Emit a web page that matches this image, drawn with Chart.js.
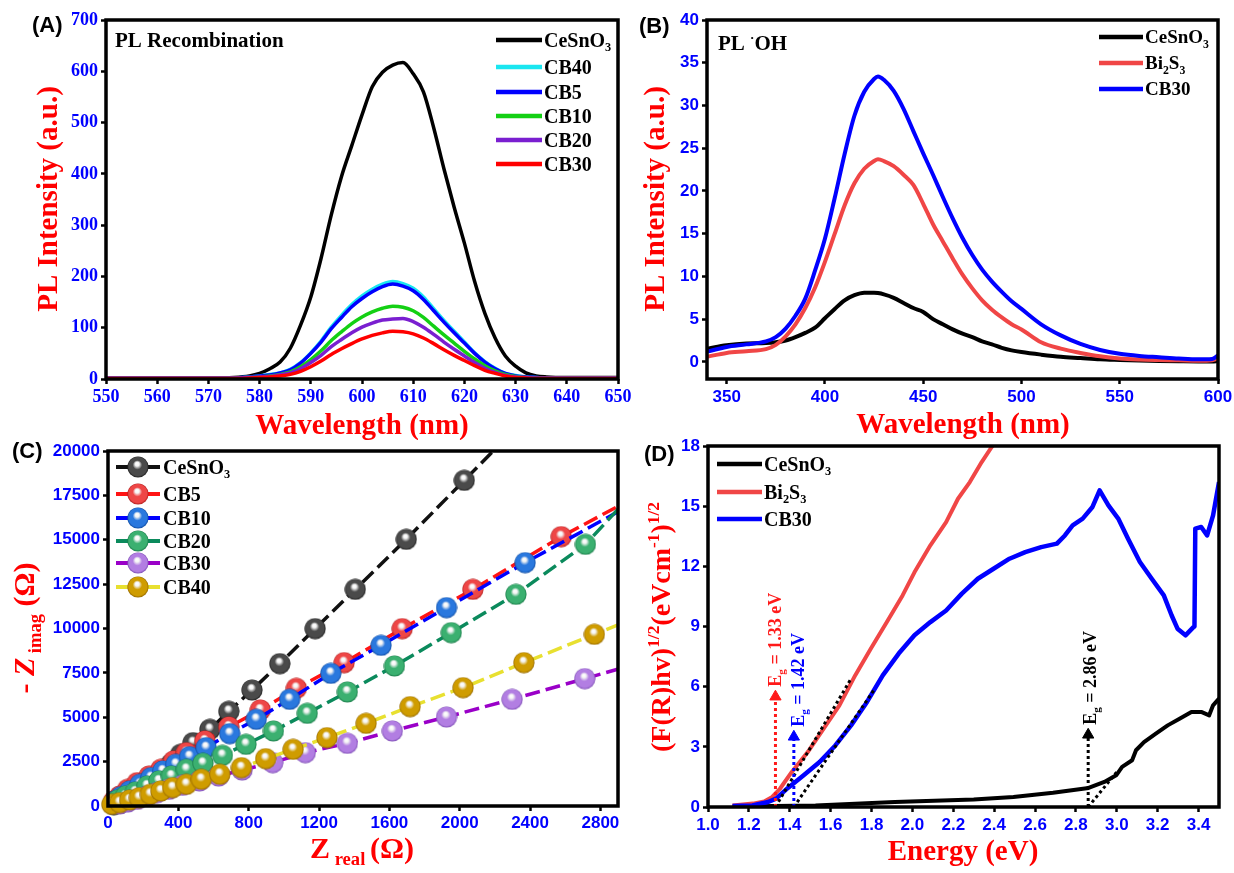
<!DOCTYPE html>
<html lang="en">
<head>
<meta charset="utf-8">
<title>PL, EIS and Tauc plots</title>
<script src="https://cdn.jsdelivr.net/npm/chart.js@4.4.1/dist/chart.umd.min.js"></script>
<style>
  html, body { margin: 0; padding: 0; background: #fff; }
  body { position: relative; width: 1234px; height: 873px; overflow: hidden; }
  canvas { position: absolute; }
</style>
</head>
<body>
<canvas id="chartA"></canvas>
<canvas id="chartB"></canvas>
<canvas id="chartC"></canvas>
<canvas id="chartD"></canvas>
<script>
'use strict';

/* ============================================================
   DATA
   ============================================================ */

/* (A) PL recombination spectra */
const wlA = [550, 560, 570, 575, 578, 580, 582, 584, 586, 588, 590, 592, 594, 596, 598,
             600, 602, 604, 606, 608, 610, 612, 614, 616, 618, 620, 622, 624, 626, 628,
             630, 632, 634, 636, 640, 645, 650];
const plA_CeSnO3 = [2, 2, 2, 3, 6, 11, 20, 33, 60, 105, 160, 235, 320, 395, 455,
                    515, 570, 598, 612, 617, 595, 560, 490, 410, 335, 265, 190, 128, 80, 45,
                    25, 12, 6, 4, 3, 3, 3];
const plA_CB40 = [2, 2, 2, 2, 4, 6, 9, 12, 19, 32, 51, 74, 101, 124, 145,
                  162, 175, 185, 190, 186, 177, 160, 137, 114, 93, 72, 51, 34, 21, 11,
                  7, 4, 3, 2, 2, 2, 2];
const plA_CB5 = [2, 2, 2, 2, 4, 6, 8, 12, 18, 31, 50, 72, 98, 120, 141,
                 157, 170, 180, 185, 181, 172, 155, 133, 111, 90, 70, 50, 33, 20, 11,
                 6, 4, 3, 2, 2, 2, 2];
const plA_CB10 = [2, 2, 2, 2, 3, 4, 6, 9, 14, 24, 38, 55, 75, 92, 108,
                  121, 131, 138, 142, 140, 133, 120, 103, 86, 70, 54, 39, 26, 16, 9,
                  5, 3, 2, 2, 2, 2, 2];
const plA_CB20 = [2, 2, 2, 2, 3, 4, 5, 8, 12, 20, 32, 46, 63, 77, 90,
                  101, 109, 115, 117, 118, 112, 101, 87, 72, 58, 45, 32, 21, 13, 7,
                  4, 3, 2, 2, 2, 2, 2];
const plA_CB30 = [1, 1, 1, 1, 2, 3, 4, 6, 9, 15, 24, 35, 48, 59, 69,
                  78, 85, 90, 93, 92, 88, 80, 69, 57, 46, 36, 26, 17, 11, 6,
                  3, 2, 1, 1, 1, 1, 1];
const namesA  = ['CeSnO_3', 'CB40', 'CB5', 'CB10', 'CB20', 'CB30'];
const colorsA = ['#000000', '#1ae6f0', '#0000ff', '#14d014', '#7a1fd0', '#ff0000'];
const ticksAx = [550, 560, 570, 580, 590, 600, 610, 620, 630, 640, 650];
const ticksAy = [0, 100, 200, 300, 400, 500, 600, 700];

/* (B) PL of hydroxyl radical (terephthalic acid test) */
const wlB = [340, 350, 360, 370, 375, 380, 385, 390, 395, 400, 405, 410, 415, 420, 425,
             427, 430, 435, 440, 445, 450, 455, 460, 465, 470, 475, 480, 485, 490, 495,
             500, 510, 520, 530, 540, 550, 560, 570, 580, 590, 597, 600];
const plB_CeSnO3 = [1.55, 1.95, 2.15, 2.2, 2.3, 2.5, 2.9, 3.4, 4.0, 5.1, 6.2, 7.2, 7.8, 8.1, 8.1,
                    8.05, 7.9, 7.5, 6.9, 6.3, 5.85, 5.0, 4.4, 3.8, 3.3, 2.9, 2.4, 2.05, 1.65, 1.35,
                    1.15, 0.85, 0.6, 0.45, 0.3, 0.22, 0.15, 0.1, 0.07, 0.05, 0.05, 0.1];
const plB_Bi2S3 = [0.6, 1.05, 1.25, 1.5, 2.0, 3.0, 4.4, 6.3, 8.7, 11.7, 15.0, 18.3, 20.9, 22.6, 23.5,
                   23.7, 23.5, 22.9, 21.9, 20.7, 18.5, 16.1, 14.1, 12.1, 10.2, 8.6, 7.2, 6.1, 5.2, 4.4,
                   3.8, 2.3, 1.55, 1.05, 0.65, 0.4, 0.28, 0.22, 0.18, 0.13, 0.2, 0.4];
const plB_CB30 = [1.2, 1.75, 2.05, 2.4, 2.9, 3.9, 5.4, 7.4, 10.7, 14.4, 19.2, 24.3, 28.8, 31.6, 33.1,
                  33.4, 33.0, 31.7, 29.6, 27.0, 24.4, 21.9, 19.3, 16.8, 14.5, 12.5, 10.8, 9.4, 8.2, 7.1,
                  6.2, 4.4, 3.1, 2.1, 1.4, 0.95, 0.7, 0.55, 0.4, 0.3, 0.35, 0.75];
const namesB  = ['CeSnO_3', 'Bi_2S_3', 'CB30'];
const colorsB = ['#000000', '#f04646', '#0000ff'];
const ticksBx = [350, 400, 450, 500, 550, 600];
const ticksBy = [0, 5, 10, 15, 20, 25, 30, 35, 40];

/* (C) Nyquist plots: Z real vs -Z imag (ohm) */
const zrC_CeSnO3 = [33, 67, 112, 145, 178, 212, 245, 279, 312, 357, 413, 484, 580, 687, 819, 977, 1178, 1406, 1696, 2026, 2400];
const ziC_CeSnO3 = [75, 150, 282, 470, 657, 939, 1221, 1502, 1878, 2348, 2911, 3568, 4319, 5334, 6535, 8019, 9991, 12207, 15024, 18348, 22100];
const zrC_CB5 = [33, 67, 112, 167, 234, 301, 373, 446, 551, 687, 866, 1071, 1343, 1673, 2075, 2577, 2950];
const ziC_CB5 = [282, 563, 939, 1315, 1690, 2066, 2535, 3005, 3662, 4451, 5409, 6629, 8075, 9991, 12207, 15174, 17150];
const zrC_CB10 = [40, 74, 123, 183, 245, 312, 386, 464, 558, 692, 843, 1033, 1267, 1553, 1925, 2372, 2950];
const ziC_CB10 = [282, 526, 845, 1221, 1596, 1972, 2348, 2779, 3287, 4075, 4883, 6010, 7474, 9052, 11174, 13709, 16850];
const zrC_CB20 = [56, 100, 156, 223, 290, 361, 446, 540, 651, 785, 941, 1133, 1361, 1629, 1952, 2320, 2715, 2950];
const ziC_CB20 = [338, 563, 789, 1127, 1409, 1690, 2066, 2404, 2855, 3474, 4226, 5221, 6423, 7888, 9766, 11925, 14742, 17250];
const zrC_CB30 = [67, 112, 167, 223, 279, 346, 424, 520, 629, 763, 937, 1122, 1361, 1617, 1925, 2298, 2711, 2950];
const ziC_CB30 = [113, 225, 376, 563, 751, 939, 1164, 1409, 1690, 2028, 2441, 3005, 3531, 4226, 5014, 6010, 7174, 7850];
const zrC_CB40 = [22, 67, 123, 178, 241, 301, 368, 446, 531, 636, 759, 897, 1053, 1245, 1468, 1718, 2019, 2365, 2766, 2950];
const ziC_CB40 = [94, 188, 338, 470, 657, 845, 1033, 1221, 1502, 1784, 2160, 2667, 3193, 3850, 4657, 5596, 6667, 8075, 9672, 10400];
const namesC       = ['CeSnO_3', 'CB5', 'CB10', 'CB20', 'CB30', 'CB40'];
const lineColorsC  = ['#111111', '#ff1414', '#0000ff', '#0b8a5c', '#9a00c8', '#e8e030'];
const ballColorsC  = ['#4a4a4a', '#ee4646', '#2a78de', '#3bb070', '#b27ee2', '#cf9c00'];
const ballEdgesC   = ['#1e1e1e', '#b01c1c', '#0d4aa0', '#1a7a48', '#7c4cb4', '#946800'];
const ticksCx = [0, 400, 800, 1200, 1600, 2000, 2400, 2800];
const ticksCy = [0, 2500, 5000, 7500, 10000, 12500, 15000, 17500, 20000];

/* (D) Tauc plots */
const eD_CeSnO3 = [1.12, 1.526, 1.914, 2.30, 2.494, 2.688, 2.862, 2.939, 2.997, 3.026, 3.075,
                   3.094, 3.133, 3.191, 3.249, 3.307, 3.365, 3.413, 3.452, 3.471, 3.50];
const fD_CeSnO3 = [0.03, 0.08, 0.25, 0.38, 0.5, 0.71, 0.95, 1.25, 1.58, 2.0, 2.33,
                   2.83, 3.24, 3.66, 4.07, 4.4, 4.74, 4.74, 4.57, 5.07, 5.4];
const eD_Bi2S3 = [1.12, 1.22, 1.275, 1.314, 1.352, 1.41, 1.488, 1.565, 1.643, 1.72, 1.797,
                  1.875, 1.952, 2.01, 2.088, 2.165, 2.223, 2.281, 2.339, 2.388, 2.40];
const fD_Bi2S3 = [0.08, 0.17, 0.28, 0.5, 0.91, 1.75, 2.74, 3.9, 5.07, 6.56, 7.9,
                  9.22, 10.55, 11.7, 13.05, 14.2, 15.37, 16.2, 17.2, 17.95, 18.1];
const eD_CB30 = [1.12, 1.217, 1.294, 1.333, 1.391, 1.468, 1.546, 1.623, 1.70, 1.778,
                 1.855, 1.933, 2.01, 2.088, 2.165, 2.242, 2.32, 2.397, 2.475, 2.552,
                 2.63, 2.707, 2.746, 2.784, 2.833, 2.881, 2.916, 2.959, 3.007, 3.055,
                 3.113, 3.171, 3.23, 3.268, 3.297, 3.336, 3.375, 3.38, 3.384, 3.413,
                 3.442, 3.471, 3.50];
const fD_CB30 = [0.05, 0.08, 0.25, 0.42, 0.95, 1.58, 2.24, 3.07, 4.07, 5.24,
                 6.56, 7.65, 8.56, 9.22, 9.8, 10.64, 11.38, 11.88, 12.38, 12.71,
                 12.96, 13.13, 13.54, 14.04, 14.38, 14.96, 15.79, 15.04, 14.38, 13.38,
                 12.22, 11.38, 10.55, 9.56, 8.89, 8.56, 8.97, 9.0, 13.88, 13.96,
                 13.54, 14.54, 16.2];
const namesD  = ['CeSnO_3', 'Bi_2S_3', 'CB30'];
const colorsD = ['#000000', '#f04646', '#0000ff'];
// band-gap extrapolations: tangent [x0, x1] -> [y0, y1], arrow at Eg up to arrowTop
const egValue    = [1.33, 1.42, 2.86];
const egColor    = ['#ff1a1a', '#0000ff', '#000000'];
const egArrowTop = [5.5, 3.5, 3.6];
const tangentE   = [[1.33, 1.70], [1.42, 1.81], [2.86, 3.0]];
const tangentF   = [[0, 6.4], [0, 5.8], [0, 1.75]];
const ticksDx = [1.0, 1.2, 1.4, 1.6, 1.8, 2.0, 2.2, 2.4, 2.6, 2.8, 3.0, 3.2, 3.4];
const ticksDy = [0, 3, 6, 9, 12, 15, 18];

/* ============================================================
   HELPERS
   ============================================================ */
const SERIF = '"Liberation Serif", "Times New Roman", serif';
const SANS  = '"Liberation Sans", Arial, sans-serif';
const TICK_BLUE = '#0000ff';
const TITLE_RED = '#ff0000';

const xy = (xs, ys) => xs.map((x, i) => ({ x, y: ys[i] }));
const plain = s => s.replace(/[_^{}~]/g, '');

// '_x' / '_{..}' subscript, '^{..}' superscript, '~' toggles italic
function parseRich(str) {
  const parts = [];
  let buf = '', italic = false;
  const flush = () => { if (buf) { parts.push({ t: buf, italic }); buf = ''; } };
  for (let i = 0; i < str.length; i++) {
    const c = str[i];
    if (c === '~') { flush(); italic = !italic; continue; }
    if (c === '_' || c === '^') {
      flush();
      let t;
      if (str[i + 1] === '{') { const j = str.indexOf('}', i); t = str.slice(i + 2, j); i = j; }
      else { t = str[i + 1]; i += 1; }
      parts.push({ t, italic, scale: 0.62, dy: c === '_' ? 0.22 : -0.4 });
      continue;
    }
    buf += c;
  }
  flush();
  return parts;
}

function drawRich(ctx, src, x, y, size, o = {}) {
  const family = o.family || SERIF;
  ctx.save();
  ctx.translate(x, y);
  if (o.rotate) ctx.rotate(-Math.PI / 2);
  ctx.fillStyle = o.color || '#000';
  ctx.textBaseline = 'alphabetic';
  ctx.textAlign = 'left';
  const segs = parseRich(src).map(p => {
    const font = `${p.italic ? 'italic ' : ''}bold ${size * (p.scale || 1)}px ${family}`;
    ctx.font = font;
    return { ...p, font, w: ctx.measureText(p.t).width };
  });
  const total = segs.reduce((s, p) => s + p.w, 0);
  let cx = o.align === 'center' ? -total / 2 : 0;
  for (const p of segs) {
    ctx.font = p.font;
    ctx.fillText(p.t, cx, (p.dy || 0) * size);
    cx += p.w;
  }
  ctx.restore();
}

function drawLegend(ctx, items, o) {
  items.forEach((it, i) => {
    const y = o.rows[i];
    ctx.save();
    ctx.strokeStyle = it.color;
    ctx.lineWidth = o.lw;
    ctx.beginPath();
    ctx.moveTo(o.x0, y);
    ctx.lineTo(o.x1, y);
    ctx.stroke();
    ctx.restore();
    if (it.ball) ctx.drawImage(it.ball, (o.x0 + o.x1) / 2 - it.ball.width / 2, y - it.ball.height / 2);
    drawRich(ctx, it.name, o.tx, y + o.size * 0.34, o.size);
  });
}

// shaded sphere marker, used as a Chart.js pointStyle image
function makeBall(color, edge) {
  const c = document.createElement('canvas');
  c.width = c.height = 22;
  const g = c.getContext('2d');
  const grad = g.createRadialGradient(10, 7.5, 0.4, 11, 11, 10.6);
  grad.addColorStop(0, '#ffffff');
  grad.addColorStop(0.16, '#f4f4f4');
  grad.addColorStop(0.42, color);
  grad.addColorStop(0.85, color);
  grad.addColorStop(1, edge);
  g.fillStyle = grad;
  g.beginPath();
  g.arc(11, 11, 10.6, 0, Math.PI * 2);
  g.fill();
  return c;
}

function linearAxis(o) {
  return {
    type: 'linear',
    min: o.min,
    max: o.max,
    grid: { drawOnChartArea: false, drawTicks: true, tickLength: 5, tickWidth: 2.5, tickColor: '#000', color: '#000' },
    border: { display: false },
    ticks: {
      color: TICK_BLUE, font: o.font, padding: o.pad,
      autoSkip: false, maxRotation: 0, minRotation: 0,
      callback: o.fmt || (v => String(v)),
    },
    afterBuildTicks: s => { s.ticks = o.ticks.map(v => ({ value: v })); },
    afterFit: s => {
      if (s.isHorizontal()) s.height = o.band; else s.width = o.band;
      s.paddingLeft = s.paddingRight = s.paddingTop = s.paddingBottom = 0;
    },
  };
}

function buildPanel(p) {
  const cv = document.getElementById(p.id);
  cv.width = p.w;
  cv.height = p.h;
  cv.style.left = p.ox + 'px';
  cv.style.top = p.oy + 'px';
  const L = p.area.left - p.ox, T = p.area.top - p.oy;
  const R = p.area.right - p.ox, B = p.area.bottom - p.oy;

  return new Chart(cv, {
    type: 'line',
    data: { datasets: p.datasets },
    options: {
      responsive: false,
      devicePixelRatio: 1,
      animation: false,
      events: [],
      layout: { padding: { left: 0, top: T, right: p.w - R, bottom: 0 } },
      scales: {
        x: linearAxis({ ...p.x, band: p.h - B }),
        y: linearAxis({ ...p.y, band: L }),
      },
      elements: {
        point: { radius: 0, hoverRadius: 0 },
        line: { borderJoinStyle: 'round', borderCapStyle: 'butt', fill: false },
      },
      plugins: { legend: { display: false }, tooltip: { enabled: false } },
    },
    plugins: [{
      id: 'decor',
      afterDatasetsDraw(chart) {
        const ctx = chart.ctx;
        const a = chart.chartArea;
        ctx.save();
        ctx.lineWidth = 3.5;
        ctx.strokeStyle = '#000';
        ctx.strokeRect(a.left, a.top, a.right - a.left, a.bottom - a.top);
        ctx.translate(-p.ox, -p.oy);
        p.draw(ctx, chart);
        ctx.restore();
      },
    }],
  });
}

/* ============================================================
   PANELS
   ============================================================ */
const seriesA = [plA_CeSnO3, plA_CB40, plA_CB5, plA_CB10, plA_CB20, plA_CB30];
const seriesB = [plB_CeSnO3, plB_Bi2S3, plB_CB30];
const seriesC = [[zrC_CeSnO3, ziC_CeSnO3], [zrC_CB5, ziC_CB5], [zrC_CB10, ziC_CB10],
                 [zrC_CB20, ziC_CB20], [zrC_CB30, ziC_CB30], [zrC_CB40, ziC_CB40]];
const seriesD = [[eD_CeSnO3, fD_CeSnO3], [eD_Bi2S3, fD_Bi2S3], [eD_CB30, fD_CB30]];
const ballsC = ballColorsC.map((c, i) => makeBall(c, ballEdgesC[i]));

const tickSerif = { family: SERIF, size: 18, weight: 'bold' };
const tickSans  = { family: SANS, size: 17, weight: 'bold' };

// (A)
buildPanel({
  id: 'chartA', ox: 0, oy: 0, w: 640, h: 440,
  area: { left: 106, top: 20, right: 618, bottom: 379 },
  x: { min: 550, max: 650, ticks: ticksAx, font: tickSerif, pad: 3 },
  y: { min: 0, max: 700, ticks: ticksAy, font: tickSerif, pad: 3 },
  datasets: seriesA.map((ys, i) => ({
    label: plain(namesA[i]), data: xy(wlA, ys),
    borderColor: colorsA[i], borderWidth: 3.5,
    cubicInterpolationMode: 'monotone', order: seriesA.length - i,
  })),
  draw(ctx) {
    drawRich(ctx, '(A)', 32, 32, 22, { family: SANS });
    drawRich(ctx, 'PL Recombination', 115, 47, 21);
    drawRich(ctx, 'PL Intensity (a.u.)', 57, 199, 29, { color: TITLE_RED, align: 'center', rotate: true });
    drawRich(ctx, 'Wavelength (nm)', 362, 434, 29, { color: TITLE_RED, align: 'center' });
    drawLegend(ctx, namesA.map((n, i) => ({ name: n, color: colorsA[i] })),
      { x0: 496, x1: 542, tx: 544, rows: [40, 67, 92, 116, 140, 164], size: 20, lw: 4.5 });
  },
});

// (B)
buildPanel({
  id: 'chartB', ox: 620, oy: 0, w: 614, h: 440,
  area: { left: 707, top: 20, right: 1218, bottom: 379 },
  x: { min: 340, max: 600, ticks: ticksBx, font: tickSans, pad: 3 },
  y: { min: -2, max: 40, ticks: ticksBy, font: tickSans, pad: 3 },
  datasets: seriesB.map((ys, i) => ({
    label: plain(namesB[i]), data: xy(wlB, ys),
    borderColor: colorsB[i], borderWidth: 4,
    cubicInterpolationMode: 'monotone', order: seriesB.length - i,
  })),
  draw(ctx) {
    drawRich(ctx, '(B)', 639, 33, 22, { family: SANS });
    drawRich(ctx, 'PL ^{·}OH', 718, 50, 21);
    drawRich(ctx, 'PL Intensity (a.u.)', 664, 199, 29, { color: TITLE_RED, align: 'center', rotate: true });
    drawRich(ctx, 'Wavelength (nm)', 963, 433, 29, { color: TITLE_RED, align: 'center' });
    drawLegend(ctx, namesB.map((n, i) => ({ name: n, color: colorsB[i] })),
      { x0: 1099, x1: 1143, tx: 1145, rows: [37, 63, 89], size: 19, lw: 4.5 });
  },
});

// (C)
buildPanel({
  id: 'chartC', ox: 0, oy: 435, w: 640, h: 438,
  area: { left: 108, top: 451, right: 618, bottom: 806 },
  x: { min: 0, max: 2900, ticks: ticksCx, font: tickSans, pad: 2 },
  y: { min: 0, max: 20000, ticks: ticksCy, font: tickSans, pad: 3 },
  datasets: seriesC.map(([xs, ys], i) => ({
    label: plain(namesC[i]), data: xy(xs, ys),
    borderColor: lineColorsC[i], borderWidth: 3.5, borderDash: [15, 6],
    tension: 0, order: seriesC.length - i,
    pointStyle: ballsC[i],
    pointRadius: xs.map((x, j) => (x > 2900 || ys[j] > 20000) ? 0 : 10),
    clip: { left: 14, bottom: 14, top: 0, right: 0 },
  })),
  draw(ctx) {
    drawRich(ctx, '(C)', 12, 458, 22, { family: SANS });
    drawRich(ctx, '- ~Z~_{ imag} (Ω)', 34, 628, 30, { color: TITLE_RED, align: 'center', rotate: true });
    drawRich(ctx, 'Z_{ real }(Ω)', 362, 858, 30, { color: TITLE_RED, align: 'center' });
    drawLegend(ctx, namesC.map((n, i) => ({ name: n, color: lineColorsC[i], ball: ballsC[i] })),
      { x0: 116, x1: 160, tx: 163, rows: [467, 494, 518, 541, 563, 587], size: 20, lw: 4 });
  },
});

// (D)
const curvesD = seriesD.map(([xs, ys], i) => ({
  label: plain(namesD[i]), data: xy(xs, ys),
  borderColor: colorsD[i], borderWidth: i === 2 ? 4.5 : 4,
  tension: 0, order: seriesD.length - i,
}));
const tangentsD = tangentE.map((xs, i) => ({
  label: 'tangent', data: xy(xs, tangentF[i]),
  borderColor: '#000', borderWidth: 3, borderDash: [3, 3], tension: 0, order: -1,
}));
const arrowsD = egValue.map((e, i) => ({
  label: 'Eg', data: xy([e, e], [0, egArrowTop[i]]),
  borderColor: egColor[i], borderWidth: 3, borderDash: [3, 3], tension: 0, order: -2,
  pointStyle: 'triangle', pointRadius: [0, 6.5],
  pointBackgroundColor: egColor[i], pointBorderColor: egColor[i], pointBorderWidth: 1,
}));
buildPanel({
  id: 'chartD', ox: 620, oy: 435, w: 614, h: 438,
  area: { left: 708, top: 446, right: 1219, bottom: 807 },
  x: { min: 1.0, max: 3.5, ticks: ticksDx, font: tickSans, pad: 3, fmt: v => v.toFixed(1) },
  y: { min: 0, max: 18, ticks: ticksDy, font: tickSans, pad: 3 },
  datasets: [...curvesD, ...tangentsD, ...arrowsD],
  draw(ctx, chart) {
    drawRich(ctx, '(D)', 644, 461, 22, { family: SANS });
    drawRich(ctx, '(F(R)hv)^{1/2}(eVcm^{-1})^{1/2}', 670, 627, 28, { color: TITLE_RED, align: 'center', rotate: true });
    drawRich(ctx, 'Energy (eV)', 963, 860, 29, { color: TITLE_RED, align: 'center' });
    drawLegend(ctx, namesD.map((n, i) => ({ name: n, color: colorsD[i] })),
      { x0: 717, x1: 762, tx: 764, rows: [464, 492, 519], size: 20, lw: 4.5 });
    const sx = chart.scales.x, sy = chart.scales.y;
    const labelE = [1.33, 1.44, 2.87];
    egValue.forEach((e, i) => {
      const px = sx.getPixelForValue(labelE[i]) + 620 + 6;
      const py = sy.getPixelForValue(egArrowTop[i]) + 435 - 10;
      drawRich(ctx, 'E_g = ' + e.toFixed(2) + ' eV', px, py, 18, { color: egColor[i], rotate: true });
    });
  },
});
</script>
</body>
</html>
